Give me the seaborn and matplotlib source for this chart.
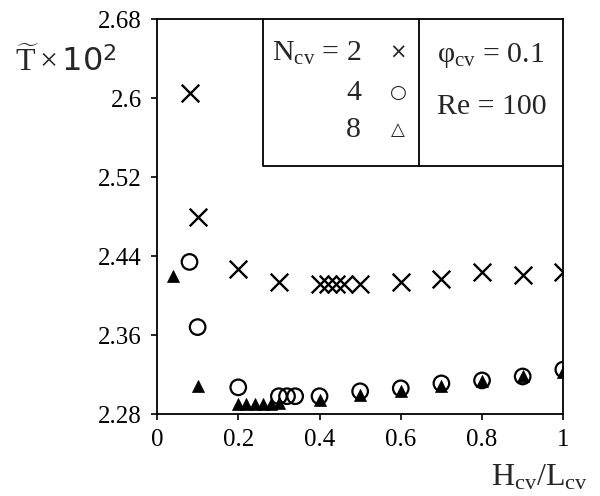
import matplotlib
matplotlib.use("Agg")
import matplotlib.pyplot as plt
import seaborn as sns
import pandas as pd

# H_cv/L_cv and T x 10^2 for each number of cavities
x_n2 = [0.08, 0.1, 0.2, 0.3, 0.4, 0.42, 0.44, 0.46, 0.5, 0.6, 0.7, 0.8, 0.9, 1.0]
t_n2 = [2.605, 2.480, 2.427, 2.414, 2.412, 2.412, 2.412, 2.412, 2.412, 2.414, 2.417, 2.424, 2.421, 2.424]

x_n4 = [0.08, 0.1, 0.2, 0.3, 0.32, 0.34, 0.4, 0.5, 0.6, 0.7, 0.8, 0.9, 1.0]
t_n4 = [2.434, 2.368, 2.307, 2.298, 2.298, 2.298, 2.298, 2.303, 2.306, 2.311, 2.314, 2.318, 2.325]

x_n8 = [0.04, 0.1, 0.2, 0.22, 0.24, 0.26, 0.28, 0.3, 0.4, 0.5, 0.6, 0.7, 0.8, 0.9, 1.0]
t_n8 = [2.420, 2.308, 2.290, 2.290, 2.290, 2.290, 2.290, 2.291, 2.294, 2.299, 2.303, 2.308, 2.313, 2.318, 2.323]

x_ticks = [0, 0.2, 0.4, 0.6, 0.8, 1]
x_ticklabels = ["0", "0.2", "0.4", "0.6", "0.8", "1"]
y_ticks = [2.28, 2.36, 2.44, 2.52, 2.6, 2.68]
y_ticklabels = ["2.28", "2.36", "2.44", "2.52", "2.6", "2.68"]

sns.set_style("ticks")
plt.rcParams["font.family"] = ["Liberation Serif", "DejaVu Sans"]
plt.rcParams["mathtext.fontset"] = "custom"
plt.rcParams["mathtext.rm"] = "Liberation Serif"
plt.rcParams["mathtext.it"] = "Liberation Serif:italic"
plt.rcParams["mathtext.sf"] = "DejaVu Sans"

W, H = 600, 496
fig = plt.figure(figsize=(6, 4.96), dpi=100)
ax = fig.add_axes([157 / W, 1 - 414 / H, (563.3 - 157) / W, (414 - 19) / H])

df2 = pd.DataFrame({"x": x_n2, "t": t_n2})
df4 = pd.DataFrame({"x": x_n4, "t": t_n4})
df8 = pd.DataFrame({"x": x_n8, "t": t_n8})

sns.scatterplot(data=df8, x="x", y="t", ax=ax, marker="^", s=75,
                color="black", edgecolor="black", linewidth=0.5, zorder=3)
sns.scatterplot(data=df4, x="x", y="t", ax=ax, marker="o", s=125,
                facecolor="none", edgecolor="black", linewidth=1.6, zorder=4)
sns.scatterplot(data=df2, x="x", y="t", ax=ax, marker="x", s=160,
                color="black", linewidth=1.7, zorder=5)

ax.set_xlim(0, 1)
ax.set_ylim(2.28, 2.68)
ax.set_xticks(x_ticks)
ax.set_xticklabels(x_ticklabels)
ax.set_yticks(y_ticks)
ax.set_yticklabels(y_ticklabels)
ax.tick_params(axis="both", direction="out", length=4, width=1.2,
               labelsize=18, colors="black")
ax.tick_params(axis="y", pad=7)
ax.tick_params(axis="x", pad=7)
ax.set_xlabel("")
ax.set_ylabel("")
for sp in ax.spines.values():
    sp.set_linewidth(1.3)
    sp.set_color("black")

# boxed key in the upper right
bx0, bx1, bx2 = 0.2616, 0.6456, 1.0
by = 0.6286
ax.plot([bx0, bx0, bx2], [1, by, by], color="black", lw=1.3,
        transform=ax.transAxes, clip_on=False, zorder=6)
ax.plot([bx1, bx1], [by, 1], color="black", lw=1.3,
        transform=ax.transAxes, clip_on=False, zorder=6)


def fx(px):
    return px / W


def fy(py):
    return 1 - py / H


fs = 21.5
fig.text(fx(361), fy(53), r"N$_{\rm cv}$ = 2", ha="right", va="center", fontsize=fs)
fig.text(fx(361), fy(93), "4", ha="right", va="center", fontsize=fs)
fig.text(fx(361), fy(130), "8", ha="right", va="center", fontsize=fs)
fig.text(fx(398), fy(53), "×", ha="center", va="center", fontsize=15,
         family=["DejaVu Sans"])
fig.text(fx(398), fy(92), "○", ha="center", va="center", fontsize=14,
         family=["DejaVu Sans"])
fig.text(fx(398), fy(130), "△", ha="center", va="center", fontsize=13,
         family=["DejaVu Sans"])
fig.text(fx(437), fy(55), r"φ$_{\rm cv}$ = 0.1", ha="left", va="center", fontsize=fs)
fig.text(fx(437), fy(107), "Re = 100", ha="left", va="center", fontsize=fs)

# axis titles
fig.text(fx(15), fy(62), r"$\widetilde{\mathrm{T}}\times\mathsf{10}^{\mathsf{2}}$",
         ha="left", va="center", fontsize=23)
fig.text(fx(588), fy(478), r"H$_{\rm cv}$/L$_{\rm cv}$", ha="right", va="center",
         fontsize=23)

fig.savefig("out.png", dpi=100)
